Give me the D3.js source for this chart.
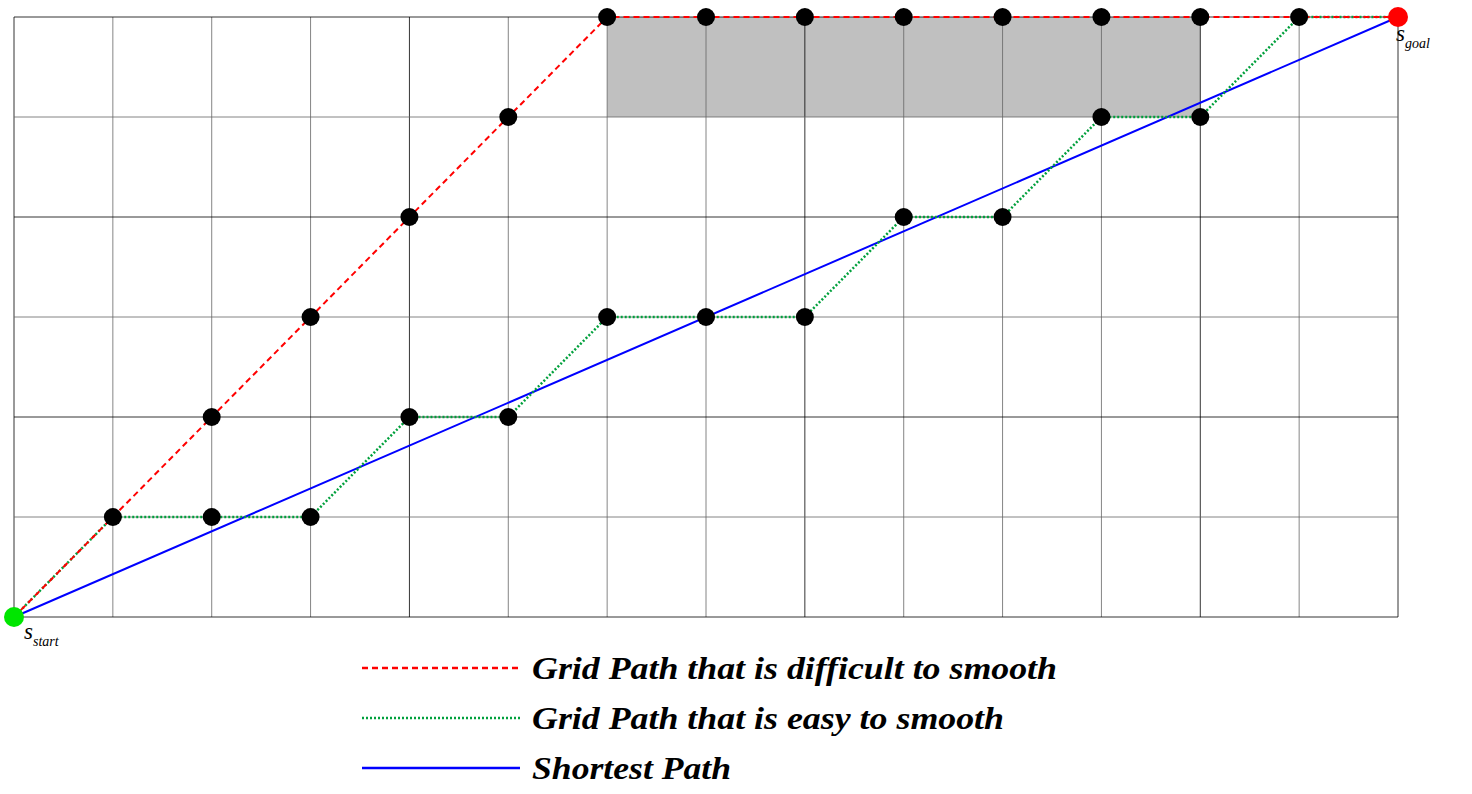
<!DOCTYPE html>
<html><head><meta charset="utf-8">
<script src="https://cdn.jsdelivr.net/npm/d3@7"></script>
<style>body{margin:0;background:#fff}</style>
</head><body>
<svg id="chart" width="1472" height="794"></svg>
<script>
// grid-cell coordinates of each path
var redPath = [[0,0],[1,1],[2,2],[3,3],[4,4],[5,5],[6,6],[7,6],[8,6],[9,6],[10,6],[11,6],[12,6],[13,6],[14,6]];
var greenPath = [[0,0],[1,1],[2,1],[3,1],[4,2],[5,2],[6,3],[7,3],[8,3],[9,4],[10,4],[11,5],[12,5],[13,6],[14,6]];
var bluePath = [[0,0],[14,6]];
var redDots = [[1,1],[2,2],[3,3],[4,4],[5,5],[6,6],[7,6],[8,6],[9,6],[10,6],[11,6],[12,6],[13,6]];
var greenDots = [[2,1],[3,1],[4,2],[5,2],[6,3],[7,3],[8,3],[9,4],[10,4],[11,5],[12,5]];
var blocked = [[6,5,12,6]];
var legendItems = ["Grid Path that is difficult to smooth", "Grid Path that is easy to smooth", "Shortest Path"];
var legendColors = ["#ff0000", "#00a03c", "#0000ff"];
var legendDash = ["6,4", "2,2", null];
var legendWidths = [525, 472, 199];

var svg = d3.select("#chart");
var x = d3.scaleLinear().domain([0, 14]).range([14, 1398]);
var y = d3.scaleLinear().domain([0, 6]).range([617, 17]);

// blocked cells
svg.selectAll("rect.block").data(blocked).enter().append("rect")
    .attr("x", d => x(d[0])).attr("y", d => y(d[3]))
    .attr("width", d => x(d[2]) - x(d[0])).attr("height", d => y(d[1]) - y(d[3]))
    .attr("fill", "#c0c0c0");

// grid lines
svg.selectAll("line.v").data(d3.range(15)).enter().append("line")
    .attr("x1", d => x(d)).attr("x2", d => x(d)).attr("y1", y(0)).attr("y2", y(6))
    .attr("stroke", d => (d % 4 == 0 || d == 14) ? "#000" : "#666").attr("stroke-width", 0.8);
svg.selectAll("line.h").data(d3.range(7)).enter().append("line")
    .attr("x1", x(0)).attr("x2", x(14)).attr("y1", d => y(d)).attr("y2", d => y(d))
    .attr("stroke", d => (d % 2 == 0) ? "#000" : "#666").attr("stroke-width", 0.8);

var line = d3.line().x(d => x(d[0])).y(d => y(d[1]));
svg.append("path").attr("d", line(bluePath)).attr("fill", "none").attr("stroke", "#0000ff").attr("stroke-width", 2);
svg.append("path").attr("d", line(greenPath)).attr("fill", "none").attr("stroke", "#00a03c").attr("stroke-width", 2.5).attr("stroke-dasharray", "2,2");
svg.append("path").attr("d", line(redPath)).attr("fill", "none").attr("stroke", "#ff0000").attr("stroke-width", 2).attr("stroke-dasharray", "6,4");

svg.selectAll("circle.dot").data(redDots.concat(greenDots)).enter().append("circle")
    .attr("cx", d => x(d[0])).attr("cy", d => y(d[1])).attr("r", 9).attr("fill", "#000");
svg.append("circle").attr("cx", x(0)).attr("cy", y(0)).attr("r", 10).attr("fill", "#00e600");
svg.append("circle").attr("cx", x(14)).attr("cy", y(6)).attr("r", 10).attr("fill", "#ff0000");

// start / goal labels
function sLabel(px, py, sub) {
    var t = svg.append("text").attr("x", px).attr("y", py)
        .attr("font-family", "Liberation Serif").attr("font-style", "italic").attr("font-size", 23);
    t.append("tspan").text("s");
    t.append("tspan").attr("dy", 7).attr("font-size", 14).text(sub);
}
sLabel(x(0) + 10, y(0) + 22, "start");
sLabel(x(14) - 2, y(6) + 24, "goal");

// legend
var lg = svg.selectAll("g.lg").data(legendItems).enter().append("g")
    .attr("transform", (d, i) => "translate(362," + (668 + i * 50) + ")");
lg.append("line").attr("x1", 0).attr("x2", 158)
    .attr("stroke", (d, i) => legendColors[i]).attr("stroke-width", 2.5)
    .attr("stroke-dasharray", (d, i) => legendDash[i]);
lg.append("text").attr("x", 170).attr("y", 11).text(d => d)
    .attr("textLength", (d, i) => legendWidths[i]).attr("lengthAdjust", "spacingAndGlyphs")
    .attr("font-family", "Liberation Serif").attr("font-style", "italic").attr("font-weight", "bold")
    .attr("font-size", 32);
</script>
</body></html>
